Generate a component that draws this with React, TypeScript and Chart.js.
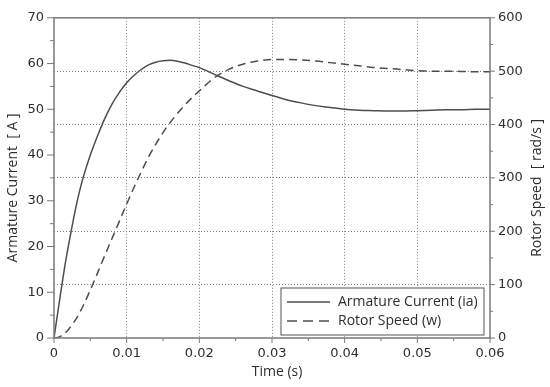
import React, { useEffect, useRef } from 'react';
import { Chart, registerables } from 'chart.js';

Chart.register(...registerables);

// ---- data ----
const TIME = [
  0, 0.0005, 0.001, 0.0015, 0.002, 0.0025, 0.003, 0.0035, 0.004, 0.005, 0.006, 0.007, 0.008, 0.009,
  0.01, 0.011, 0.012, 0.013, 0.014, 0.015, 0.016, 0.017, 0.018, 0.019, 0.02,
  0.022, 0.024, 0.026, 0.028, 0.03, 0.032, 0.034, 0.036, 0.038, 0.04, 0.042,
  0.044, 0.046, 0.048, 0.05, 0.052, 0.054, 0.056, 0.058, 0.06,
];
const ARMATURE_CURRENT = [
  0, 5.4, 10.7, 15.8, 20.3, 24.5, 28.5, 32, 35, 40, 44.2, 48, 51.2, 53.7,
  55.8, 57.4, 58.7, 59.7, 60.3, 60.6, 60.7, 60.5, 60.1, 59.6, 59.1,
  57.7, 56.3, 55.0, 54.0, 53.0, 52.1, 51.4, 50.8, 50.4, 50.0, 49.8,
  49.7, 49.6, 49.6, 49.7, 49.8, 49.9, 49.9, 50.0, 50.0,
];
const ROTOR_SPEED = [
  0, 1, 4, 9, 16, 25, 35, 47, 60, 90, 122, 155, 187, 219,
  251, 282, 311, 339, 363, 385, 404, 421, 436.5, 450.5, 463,
  487, 503, 513, 519, 522, 522, 521, 519, 516, 513, 510,
  507, 505, 503, 501, 500, 500, 499.5, 499, 499,
];

const X_MAJOR = [0, 0.01, 0.02, 0.03, 0.04, 0.05, 0.06];
const X_MINOR = [0.005, 0.015, 0.025, 0.035, 0.045, 0.055];
const LEFT_MAJOR = [0, 10, 20, 30, 40, 50, 60, 70];
const LEFT_MINOR = [5, 15, 25, 35, 45, 55, 65];
const RIGHT_MAJOR = [0, 100, 200, 300, 400, 500, 600];
const RIGHT_MINOR = [50, 150, 250, 350, 450, 550];

const SERIES_LABELS = ['Armature Current (ia)', 'Rotor Speed (w)'];
const X_TITLE = 'Time (s)';
const LEFT_TITLE = 'Armature Current  [ A ]';
const RIGHT_TITLE = 'Rotor Speed  [ rad/s ]';

const AXIS_COLOR = '#7a7a7a';
const GRID_COLOR = '#808080';
const TEXT_COLOR = '#2e2e2e';
const LINE_COLOR = '#4d4d4d';
const TICK_FONT = '"DejaVu Sans", sans-serif';
const TITLE_FONT = '"Open Sans", sans-serif';

const overlayPlugin = {
  id: 'overlay',
  afterDatasetsDraw(chart: any) {
    const { ctx, chartArea: ca, scales } = chart;
    const sx = scales.x, sy = scales.y, sy1 = scales.y1;
    ctx.save();

    // frame
    ctx.strokeStyle = AXIS_COLOR;
    ctx.lineWidth = 1.5;
    ctx.setLineDash([]);
    ctx.strokeRect(ca.left, ca.top, ca.right - ca.left, ca.bottom - ca.top);

    // tick marks
    ctx.lineWidth = 1;
    ctx.beginPath();
    X_MAJOR.forEach((v) => { const p = sx.getPixelForValue(v); ctx.moveTo(p, ca.bottom); ctx.lineTo(p, ca.bottom + 5); });
    X_MINOR.forEach((v) => { const p = sx.getPixelForValue(v); ctx.moveTo(p, ca.bottom); ctx.lineTo(p, ca.bottom + 3); });
    LEFT_MAJOR.forEach((v) => { const p = sy.getPixelForValue(v); ctx.moveTo(ca.left, p); ctx.lineTo(ca.left - 7, p); });
    LEFT_MINOR.forEach((v) => { const p = sy.getPixelForValue(v); ctx.moveTo(ca.left, p); ctx.lineTo(ca.left - 4, p); });
    RIGHT_MAJOR.forEach((v) => { const p = sy1.getPixelForValue(v); ctx.moveTo(ca.right, p); ctx.lineTo(ca.right + 5, p); });
    RIGHT_MINOR.forEach((v) => { const p = sy1.getPixelForValue(v); ctx.moveTo(ca.right, p); ctx.lineTo(ca.right + 3, p); });
    ctx.stroke();

    // legend
    const bw = 203, bh = 47;
    const bx = ca.right - 6 - bw, by = ca.bottom - 3 - bh;
    ctx.fillStyle = '#ffffff';
    ctx.fillRect(bx, by, bw, bh);
    ctx.strokeStyle = '#707070';
    ctx.lineWidth = 1.2;
    ctx.strokeRect(bx, by, bw, bh);
    const rows = [by + 14, by + 33];
    ctx.strokeStyle = LINE_COLOR;
    ctx.lineWidth = 1.4;
    ctx.beginPath();
    ctx.moveTo(bx + 6, rows[0]); ctx.lineTo(bx + 49, rows[0]);
    ctx.stroke();
    ctx.setLineDash([10, 6]);
    ctx.beginPath();
    ctx.moveTo(bx + 6, rows[1]); ctx.lineTo(bx + 49, rows[1]);
    ctx.stroke();
    ctx.setLineDash([]);
    ctx.fillStyle = TEXT_COLOR;
    ctx.font = '14px ' + TITLE_FONT;
    ctx.textAlign = 'left';
    ctx.textBaseline = 'middle';
    ctx.fillText(SERIES_LABELS[0], bx + 57, rows[0]);
    ctx.fillText(SERIES_LABELS[1], bx + 57, rows[1]);

    // axis titles
    ctx.textAlign = 'center';
    ctx.fillText(X_TITLE, (ca.left + ca.right) / 2 + 5, ca.bottom + 34);
    const midY = (ca.top + ca.bottom) / 2 + 10;
    ctx.save();
    ctx.translate(13, midY);
    ctx.rotate(-Math.PI / 2);
    ctx.fillText(LEFT_TITLE, 0, 0);
    ctx.restore();
    ctx.save();
    ctx.translate(ca.right + 47, midY);
    ctx.rotate(-Math.PI / 2);
    ctx.fillText(RIGHT_TITLE, 0, 0);
    ctx.restore();

    ctx.restore();
  },
};

export default function App() {
  const ref = useRef<HTMLCanvasElement | null>(null);

  useEffect(() => {
    if (!ref.current) return;
    const tickFont = { family: TICK_FONT, size: 13 };
    const edgeTransparent = (min: number, max: number) => (c: any) => {
      const v = c.tick ? c.tick.value : null;
      return v === min || v === max || Math.abs(v - max) < 1e-9 ? 'rgba(0,0,0,0)' : GRID_COLOR;
    };
    const chart = new Chart(ref.current, {
      type: 'line',
      data: {
        datasets: [
          {
            label: SERIES_LABELS[0],
            data: TIME.map((t, i) => ({ x: t, y: ARMATURE_CURRENT[i] })),
            yAxisID: 'y',
            borderColor: LINE_COLOR,
            borderWidth: 1.5,
            pointRadius: 0,
            cubicInterpolationMode: 'monotone',
            fill: false,
          },
          {
            label: SERIES_LABELS[1],
            data: TIME.map((t, i) => ({ x: t, y: ROTOR_SPEED[i] })),
            yAxisID: 'y1',
            borderColor: LINE_COLOR,
            borderWidth: 1.5,
            borderDash: [8, 5],
            pointRadius: 0,
            cubicInterpolationMode: 'monotone',
            fill: false,
          },
        ],
      },
      options: {
        animation: false,
        responsive: false,
        maintainAspectRatio: false,
        layout: { padding: { top: 12, left: 0, right: 0, bottom: 0 } },
        plugins: { legend: { display: false }, tooltip: { enabled: false } },
        scales: {
          x: {
            type: 'linear',
            min: 0,
            max: 0.06,
            afterFit: (s: any) => { s.height = 49; },
            afterBuildTicks: (s: any) => { s.ticks = X_MAJOR.map((v) => ({ value: v })); },
            ticks: {
              font: tickFont,
              color: TEXT_COLOR,
              padding: 8,
              maxRotation: 0,
              autoSkip: false,
              callback: (v: any) => String(Number(Number(v).toFixed(3))),
            },
            grid: { color: edgeTransparent(0, 0.06), lineWidth: 1, drawTicks: false },
            border: { display: false, dash: [1, 2] },
          },
          y: {
            type: 'linear',
            position: 'left',
            min: 0,
            max: 70,
            afterFit: (s: any) => { s.width = 54; },
            afterBuildTicks: (s: any) => { s.ticks = LEFT_MAJOR.map((v) => ({ value: v })); },
            ticks: { font: tickFont, color: TEXT_COLOR, padding: 10 },
            grid: { display: false, drawTicks: false },
            border: { display: false },
          },
          y1: {
            type: 'linear',
            position: 'right',
            min: 0,
            max: 600,
            afterFit: (s: any) => { s.width = 60; },
            afterBuildTicks: (s: any) => { s.ticks = RIGHT_MAJOR.map((v) => ({ value: v })); },
            ticks: { font: tickFont, color: TEXT_COLOR, padding: 8 },
            grid: { color: edgeTransparent(0, 600), lineWidth: 1, drawTicks: false },
            border: { display: false, dash: [1, 2] },
          },
        },
      },
      plugins: [overlayPlugin],
    } as any);
    return () => chart.destroy();
  }, []);

  return (
    <div style={{ position: 'fixed', left: 0, top: 0, width: 550, height: 387, background: '#fff' }}>
      <canvas ref={ref} width={550} height={387} style={{ width: 550, height: 387 }} />
    </div>
  );
}
